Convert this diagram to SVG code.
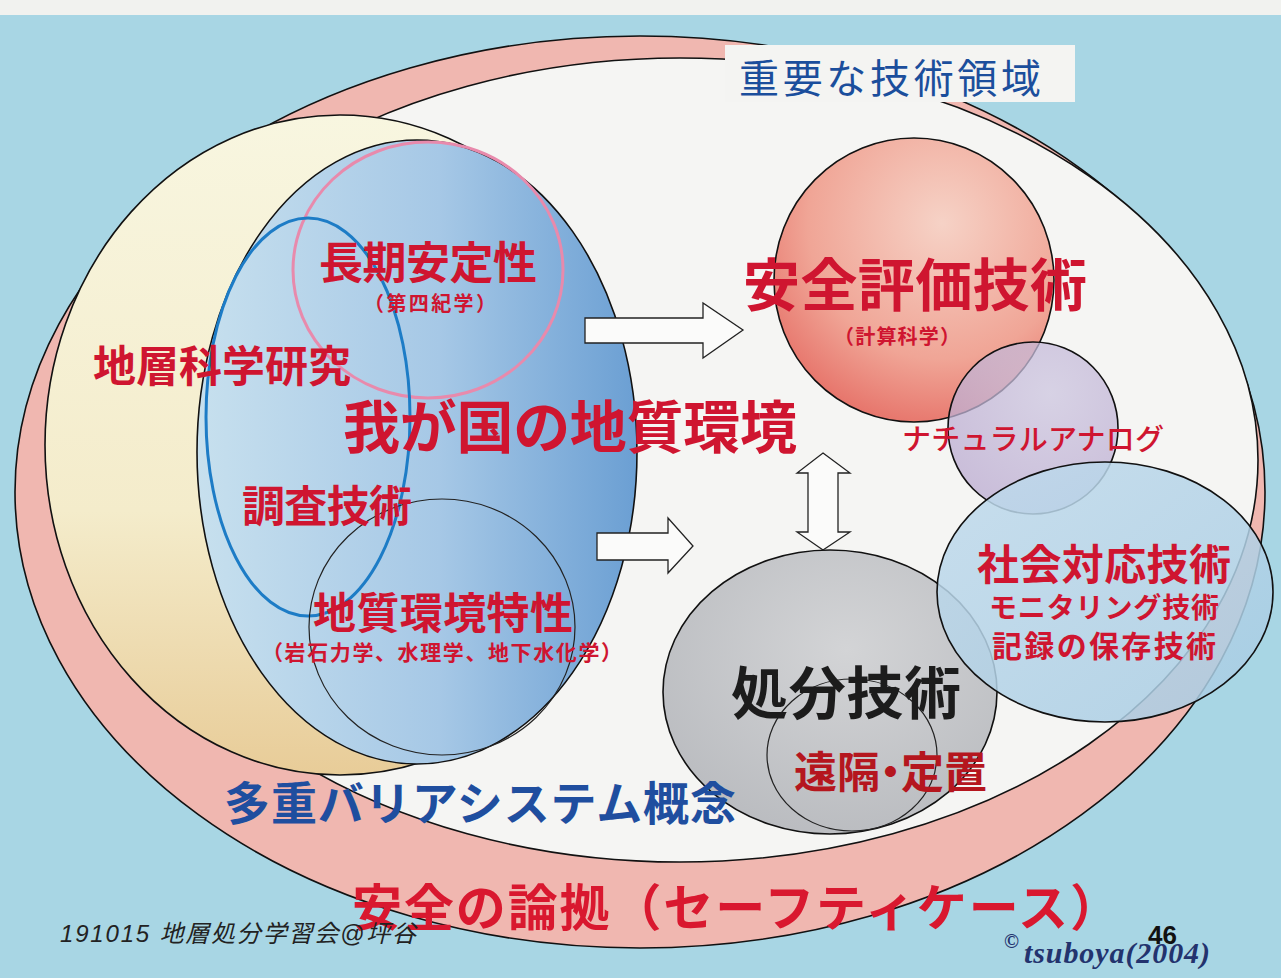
<svg xmlns="http://www.w3.org/2000/svg" width="1281" height="978" viewBox="0 0 1281 978">
<defs>
<style>
.ol{stroke:#111;stroke-width:1.6}
.thin{stroke:#222;stroke-width:1.2}
.jp{font-family:"Noto Sans CJK JP","Noto Sans",sans-serif;font-weight:700;text-anchor:middle}
.red{fill:#cf1530}
.arrow{fill:#fbfbfa;stroke:#222;stroke-width:1.3;stroke-linejoin:miter}
</style>
<linearGradient id="gYellow" x1="0" y1="0" x2="0" y2="1">
<stop offset="0" stop-color="#f8f6e0"/>
<stop offset="0.6" stop-color="#f4eccb"/>
<stop offset="1" stop-color="#e8cc98"/>
</linearGradient>
<linearGradient id="gBlue" x1="0" y1="0" x2="1" y2="0">
<stop offset="0" stop-color="#c7e0ee"/>
<stop offset="0.55" stop-color="#a6c8e6"/>
<stop offset="1" stop-color="#6b9fd3"/>
</linearGradient>
<radialGradient id="gRed" cx="0.6" cy="0.3" r="0.8">
<stop offset="0" stop-color="#f6d2c6"/>
<stop offset="0.6" stop-color="#f0a596"/>
<stop offset="1" stop-color="#e4665e"/>
</radialGradient>
<radialGradient id="gLav" cx="0.6" cy="0.3" r="0.8">
<stop offset="0" stop-color="#cdc6e0"/>
<stop offset="1" stop-color="#b9a8cf"/>
</radialGradient>
<radialGradient id="gGray" cx="0.55" cy="0.35" r="0.7">
<stop offset="0" stop-color="#d3d4d6"/>
<stop offset="1" stop-color="#b9bbbf"/>
</radialGradient>
<linearGradient id="gSoc" x1="0" y1="0" x2="1" y2="1">
<stop offset="0" stop-color="#c0daec"/>
<stop offset="1" stop-color="#a7cce3"/>
</linearGradient>
</defs>

<rect x="0" y="0" width="1281" height="978" fill="#a8d6e4"/>
<rect x="0" y="0" width="1281" height="15" fill="#f1f2ef"/>

<g id="safety-case">
<ellipse cx="640" cy="492" rx="625" ry="456" fill="#f0b7b0" class="ol"/>
</g>
<g id="tech-domain">
<ellipse cx="680" cy="460" rx="578" ry="402" fill="#f5f5f3" class="ol"/>
</g>
<g id="geo-science">
<ellipse cx="340" cy="445" rx="295" ry="330" fill="url(#gYellow)" class="ol"/>
</g>
<g id="geo-env">
<ellipse cx="417" cy="452" rx="220" ry="312" fill="url(#gBlue)" class="ol"/>
</g>
<g id="long-term">
<ellipse cx="428" cy="270" rx="135" ry="128" fill="none" stroke="#e88aac" stroke-width="3"/>
</g>
<g id="survey">
<ellipse cx="308" cy="417" rx="102" ry="199" fill="none" stroke="#1d7cc6" stroke-width="3"/>
</g>
<g id="geo-char">
<ellipse cx="442" cy="627" rx="133" ry="128" fill="none" class="thin"/>
</g>
<g id="safety-assess">
<ellipse cx="914" cy="280" rx="140" ry="142" fill="url(#gRed)" class="ol"/>
</g>
<g id="natural-analog">
<ellipse cx="1033" cy="428" rx="85" ry="86" fill="url(#gLav)" fill-opacity="0.75" class="ol"/>
</g>
<g id="disposal">
<ellipse cx="830" cy="692" rx="167" ry="142" fill="url(#gGray)" class="ol"/>
<ellipse cx="852" cy="755" rx="85" ry="76" fill="none" class="thin"/>
</g>
<g id="social">
<ellipse cx="1105" cy="592" rx="168" ry="130" fill="url(#gSoc)" fill-opacity="0.85" class="ol"/>
</g>

<g id="connectors">
<polygon class="arrow" points="585,318 703,318 703,303 743,330 703,358 703,343 585,343"/>
<polygon class="arrow" points="597,533 668,533 668,518 693,546 668,573 668,560 597,560"/>
<polygon class="arrow" points="823,453 850,473 838,473 838,532 850,532 823,550 797,532 808,532 808,473 797,473"/>
</g>

<g id="labels">
<rect x="725" y="45" width="350" height="57" fill="#f4f4f2"/>
<text x="890" y="93" class="jp" style="font-weight:400" font-size="40" fill="#1b4e9c" textLength="302">重要な技術領域</text>
<text x="428" y="279" class="jp red" font-size="44" textLength="218">長期安定性</text>
<text x="430" y="311" class="jp red" font-size="20" textLength="132">（第四紀学）</text>
<text x="222" y="382" class="jp red" font-size="43" textLength="258">地層科学研究</text>
<text x="570" y="448" class="jp red" font-size="57" textLength="454">我が国の地質環境</text>
<text x="327" y="522" class="jp red" font-size="43" textLength="170">調査技術</text>
<text x="443" y="629" class="jp red" font-size="43" textLength="260">地質環境特性</text>
<text x="442" y="660" class="jp red" font-size="21" textLength="360">（岩石力学、水理学、地下水化学）</text>
<text x="915" y="306" class="jp red" font-size="57" textLength="344">安全評価技術</text>
<text x="897" y="344" class="jp red" font-size="20" textLength="126">（計算科学）</text>
<text x="1033" y="450" class="jp red" style="font-weight:500" font-size="29" textLength="262">ナチュラルアナログ</text>
<text x="1104" y="580" class="jp red" font-size="42" textLength="254">社会対応技術</text>
<text x="1104" y="618" class="jp red" font-size="28" textLength="230">モニタリング技術</text>
<text x="1104" y="657" class="jp red" font-size="30" textLength="224">記録の保存技術</text>
<text x="846" y="714" class="jp" font-size="57" fill="#1c1c1c" textLength="230">処分技術</text>
<text x="794" y="788" class="jp" style="text-anchor:start" font-size="43" fill="#b5161e"><tspan>遠隔</tspan><tspan dx="-11">・</tspan><tspan dx="-11">定置</tspan></text>
<text x="480" y="820" class="jp" font-size="46" fill="#1f4e9f" textLength="512">多重バリアシステム概念</text>
<text x="352" y="926" class="jp" style="text-anchor:start" font-size="50" fill="#d9182f" textLength="768">安全の論拠（セーフティケース）</text>
<text x="60" y="942" font-family="'Liberation Sans','Noto Sans CJK JP',sans-serif" font-style="italic" font-size="24" fill="#222" textLength="356">191015 地層処分学習会@坪谷</text>
<text x="1148" y="944" font-family="'Liberation Sans',sans-serif" font-weight="700" font-size="26" fill="#111">46</text>
<text x="1004" y="948" font-family="'Liberation Serif',serif" font-weight="700" font-size="20" fill="#23336e">©</text>
<text x="1024" y="963" font-family="'Liberation Serif',serif" font-weight="700" font-style="italic" font-size="30" fill="#23336e" textLength="186">tsuboya(2004)</text>
</g>
</svg>
